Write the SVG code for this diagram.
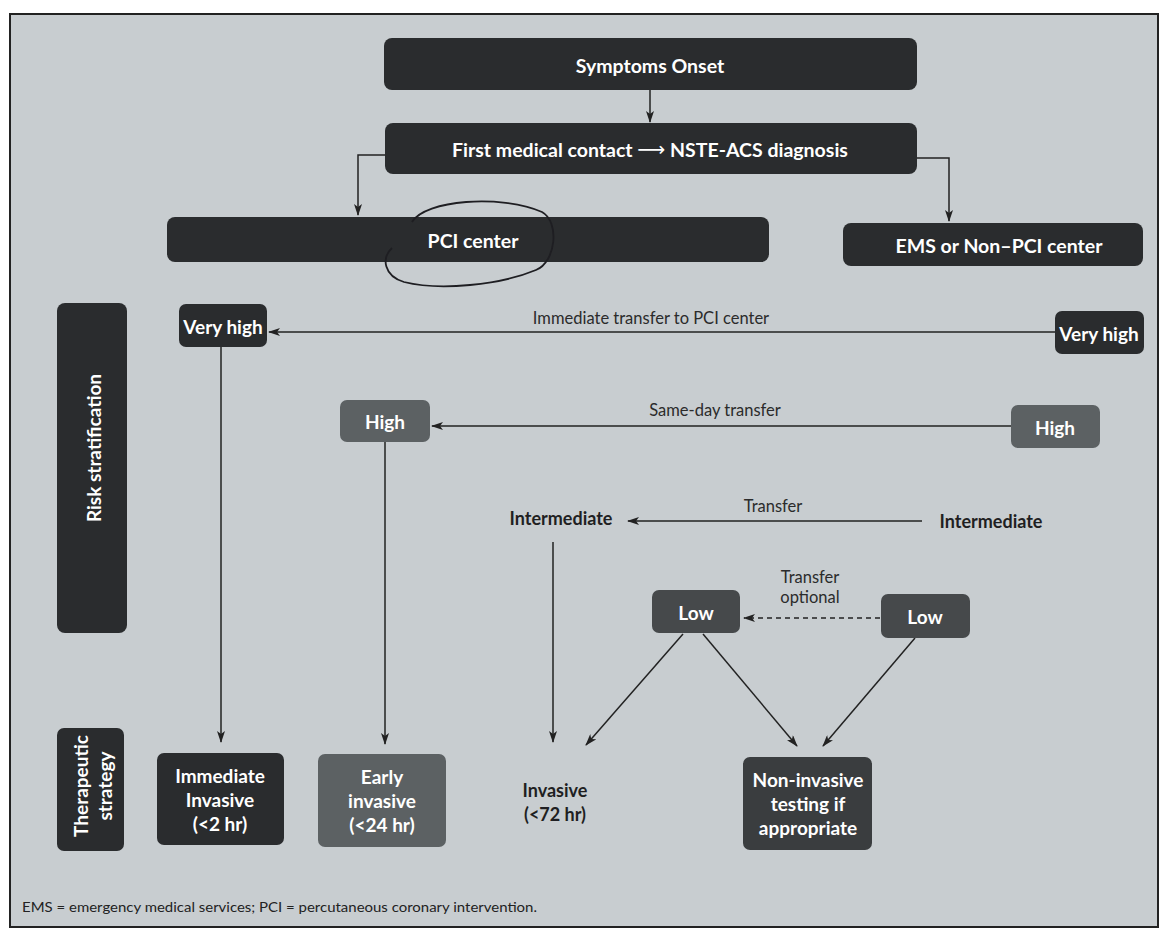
<svg xmlns="http://www.w3.org/2000/svg" width="1162" height="934" viewBox="0 0 1162 934">
<defs>
<marker id="ah" viewBox="0 0 12 8" refX="11" refY="4" markerWidth="12" markerHeight="8" markerUnits="userSpaceOnUse" orient="auto"><path d="M0,0 L12,4 L0,8 L3,4 z" fill="#222"/></marker>
<style>
.dark{fill:#2a2c2e}
.mid{fill:#5c6163}
.low{fill:#46494b}
.ni{fill:#3a3d3f}
.wt{font-family:Lato,'Open Sans','Liberation Sans',sans-serif;font-weight:700;fill:#fff;text-anchor:middle;dominant-baseline:central;font-size:19px}
.big{font-size:19.5px}
.bt{font-family:Lato,'Open Sans','Liberation Sans',sans-serif;font-weight:700;fill:#1f1f22;text-anchor:middle;dominant-baseline:central;font-size:18px}
.lbl{font-family:Lato,'Open Sans','Liberation Sans',sans-serif;font-weight:400;fill:#2b2b2b;text-anchor:middle;dominant-baseline:central;font-size:16.5px}
.conn{stroke:#222;stroke-width:1.5;fill:none}
</style>
</defs>
<rect x="0" y="0" width="1162" height="934" fill="#ffffff"/>
<rect x="10" y="14" width="1148" height="913" fill="#c8cdd0" stroke="#222" stroke-width="2"/>

<g id="connectors">
<path class="conn" d="M650,90 V122" marker-end="url(#ah)"/>
<path class="conn" d="M385,155 H358 V215" marker-end="url(#ah)"/>
<path class="conn" d="M917,158 H949 V221" marker-end="url(#ah)"/>
<path class="conn" d="M1055,332 H269" marker-end="url(#ah)"/>
<text class="lbl" x="651" y="318">Immediate transfer to PCI center</text>
<path class="conn" d="M1011,426 H432" marker-end="url(#ah)"/>
<text class="lbl" x="715" y="410">Same-day transfer</text>
<path class="conn" d="M922,521 H628" marker-end="url(#ah)"/>
<text class="lbl" x="773" y="506">Transfer</text>
<path class="conn" d="M880,618 H744" stroke-dasharray="5,4" marker-end="url(#ah)"/>
<text class="lbl" x="810" y="577">Transfer</text>
<text class="lbl" x="810" y="597">optional</text>
<path class="conn" d="M221,347 V742" marker-end="url(#ah)"/>
<path class="conn" d="M385,442 V744" marker-end="url(#ah)"/>
<path class="conn" d="M553,542 V742" marker-end="url(#ah)"/>
<path class="conn" d="M683,634 L586,745" marker-end="url(#ah)"/>
<path class="conn" d="M703,634 L797,746" marker-end="url(#ah)"/>
<path class="conn" d="M915,638 L823,746" marker-end="url(#ah)"/>
</g>

<g id="symptoms"><rect class="dark" x="384" y="38" width="533" height="52" rx="8"/><text class="wt big" x="650" y="65">Symptoms Onset</text></g>
<g id="first-contact"><rect class="dark" x="385" y="123" width="532" height="51" rx="8"/><text class="wt big" x="650" y="149">First medical contact <tspan font-family="DejaVu Sans" font-weight="400">⟶</tspan> NSTE-ACS diagnosis</text></g>
<g id="pci-center"><rect class="dark" x="167" y="217" width="602" height="45" rx="8"/><text class="wt big" x="473" y="240">PCI center</text></g>
<g id="ems"><rect class="dark" x="843" y="223" width="300" height="43" rx="8"/><text class="wt big" x="999" y="245">EMS or Non–PCI center</text></g>

<path d="M412,222 C425,200 500,194 542,212 C560,222 556,262 536,270 C500,285 440,291 404,282 C384,276 381,258 392,248" fill="none" stroke="#1e1e22" stroke-width="1.8"/>

<g id="risk"><rect class="dark" x="57" y="303" width="70" height="330" rx="8"/><text class="wt" transform="translate(93,448) rotate(-90)" x="0" y="0" font-size="17">Risk stratification</text></g>
<g id="vh-left"><rect class="dark" x="179" y="304" width="88" height="43" rx="7"/><text class="wt" x="223" y="326">Very high</text></g>
<g id="vh-right"><rect class="dark" x="1055" y="311" width="89" height="43" rx="7"/><text class="wt" x="1099" y="333">Very high</text></g>
<g id="high-left"><rect class="mid" x="340" y="400" width="90" height="42" rx="7"/><text class="wt" x="385" y="421">High</text></g>
<g id="high-right"><rect class="mid" x="1011" y="405" width="89" height="43" rx="7"/><text class="wt" x="1055" y="427">High</text></g>
<g id="int-left"><text class="bt" x="561" y="518">Intermediate</text></g>
<g id="int-right"><text class="bt" x="991" y="521">Intermediate</text></g>
<g id="low-left"><rect class="low" x="652" y="590" width="88" height="43" rx="7"/><text class="wt" x="696" y="612">Low</text></g>
<g id="low-right"><rect class="low" x="881" y="594" width="89" height="44" rx="7"/><text class="wt" x="925" y="616">Low</text></g>

<g id="therapeutic"><rect class="dark" x="57" y="728" width="67" height="123" rx="7"/>
<text class="wt" transform="translate(80,786) rotate(-90)" x="0" y="0" font-size="17">Therapeutic</text>
<text class="wt" transform="translate(104,786) rotate(-90)" x="0" y="0" font-size="17">strategy</text></g>
<g id="immediate"><rect class="dark" x="157" y="753" width="127" height="92" rx="7"/>
<text class="wt" x="220" y="775">Immediate</text><text class="wt" x="220" y="799">Invasive</text><text class="wt" x="220" y="823">(&lt;2 hr)</text></g>
<g id="early"><rect class="mid" x="318" y="754" width="128" height="93" rx="7"/>
<text class="wt" x="382" y="776">Early</text><text class="wt" x="382" y="800">invasive</text><text class="wt" x="382" y="824">(&lt;24 hr)</text></g>
<g id="invasive"><text class="bt" x="555" y="790">Invasive</text><text class="bt" x="555" y="814">(&lt;72 hr)</text></g>
<g id="noninvasive"><rect class="ni" x="743" y="757" width="129" height="93" rx="7"/>
<text class="wt" x="808" y="779">Non-invasive</text><text class="wt" x="808" y="803">testing if</text><text class="wt" x="808" y="827">appropriate</text></g>

<text x="22" y="912" font-family="Lato,'Open Sans','Liberation Sans',sans-serif" font-size="13" fill="#222" textLength="515" lengthAdjust="spacingAndGlyphs">EMS = emergency medical services; PCI = percutaneous coronary intervention.</text>
</svg>
